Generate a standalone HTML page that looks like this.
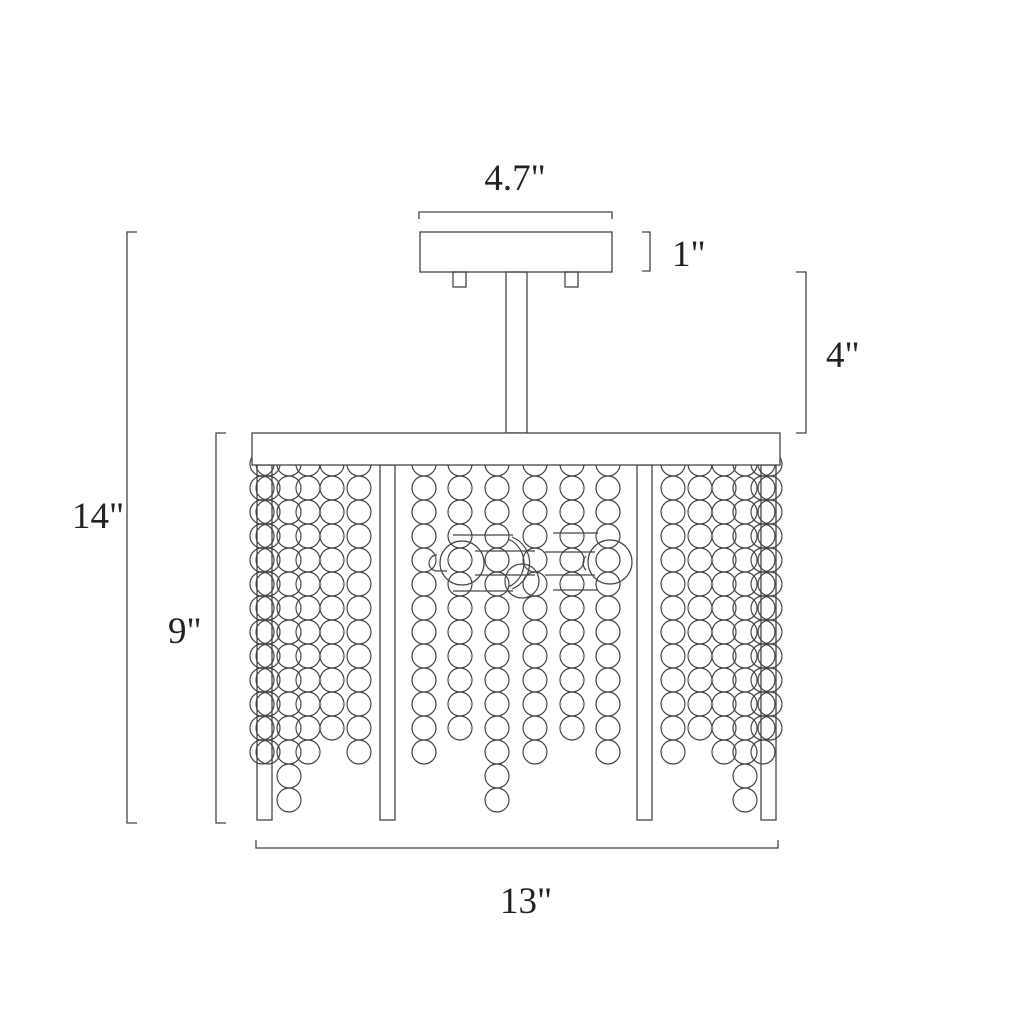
<!DOCTYPE html>
<html><head><style>
html,body{margin:0;padding:0;background:#fff}
svg{display:block}
text{font-family:"Liberation Serif",serif;font-size:37px;fill:#222}
</style></head><body>
<svg id="s" width="1024" height="1024" viewBox="0 0 1024 1024" xmlns="http://www.w3.org/2000/svg">
<g fill="none" stroke="#444" stroke-width="1.3">
<!-- canopy -->
<rect x="420" y="232" width="192" height="40"/>
<rect x="453" y="272" width="13" height="15"/>
<rect x="565" y="272" width="13" height="15"/>
<rect x="506" y="272" width="21" height="161"/>
<!-- dimension brackets -->
<path d="M419 219 V212 H612 V219"/>
<path d="M642 232 H650 V271 H642"/>
<path d="M796 272 H806 V433 H796"/>
<path d="M137 232 H127 V823 H137"/>
<path d="M226 433 H216 V823 H226"/>
<path d="M256 840 V848 H778 V840"/>
<!-- legs -->
<rect x="257" y="465" width="15" height="355"/>
<rect x="380" y="465" width="15" height="355"/>
<rect x="637" y="465" width="15" height="355"/>
<rect x="761" y="465" width="15" height="355"/>
</g>
<g id="beads" fill="none" stroke="#444" stroke-width="1.2"></g>
<g fill="none" stroke="#444" stroke-width="1.2">
<!-- sockets -->
<path d="M437 555 a8 8 0 0 0 0 16 h10"/>
<circle cx="462" cy="563" r="22"/>
<path d="M453 535 h60 M453 591 h60 M475 551 h60 M475 575 h60"/>
<path d="M512 537 a28 28 0 0 1 0 52"/>
<path d="M508 539 a26 26 0 0 1 0 48"/>
<circle cx="522" cy="581" r="17"/>
<path d="M553 533 h45 M553 590 h45 M545 552 h50 M545 575 h50"/>
<path d="M586 556 a10 10 0 0 0 0 14"/>
<circle cx="610" cy="562" r="22"/>
</g>
<rect x="252" y="433" width="528" height="32" fill="#fff" stroke="#444" stroke-width="1.3"/>
<text x="515" y="190" text-anchor="middle">4.7"</text>
<text x="672" y="266">1"</text>
<text x="826" y="367">4"</text>
<text x="72" y="528">14"</text>
<text x="168" y="643">9"</text>
<text x="500" y="913">13"</text>
</svg>
<script>
var g=document.getElementById('beads');
var cols=[[262,752],[268,752],[289,800],[308,752],[332,728],[359,752],
[424,752],[460,728],[497,800],[535,752],[572,728],[608,752],
[673,752],[700,728],[724,752],[745,800],[763,752],[770,728]];
var s='';
cols.forEach(function(c){for(var y=464;y<=c[1];y+=24){s+='<circle cx="'+c[0]+'" cy="'+y+'" r="12"/>';}});
g.innerHTML=s;
</script>
</body></html>
